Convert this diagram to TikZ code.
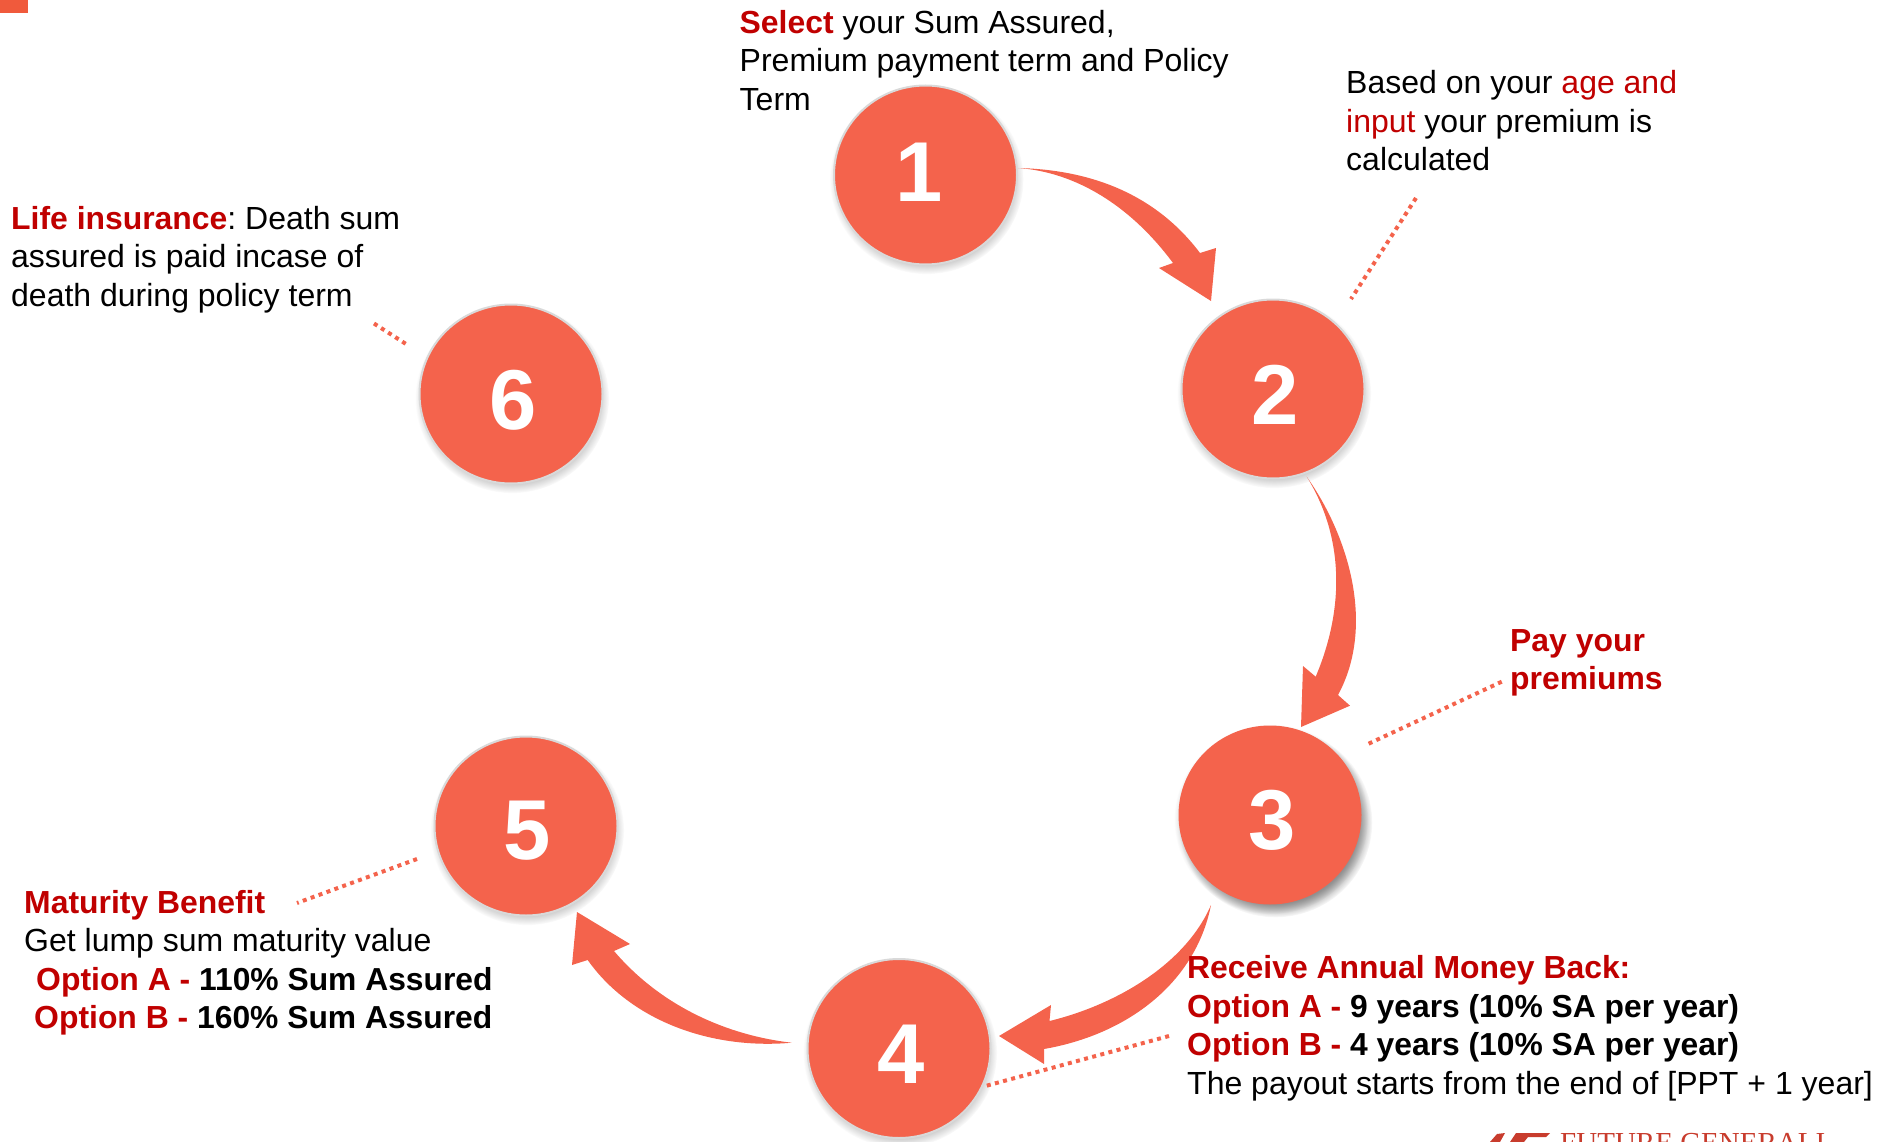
\documentclass[tikz,border=0pt]{standalone}
\usepackage{fontspec}
\setmainfont{Liberation Sans}
\usetikzlibrary{shadows,shapes.geometric}
\definecolor{coral}{RGB}{244,99,76}
\definecolor{tagcol}{RGB}{240,90,60}
\definecolor{redtxt}{RGB}{192,0,0}
\definecolor{logored}{RGB}{200,60,45}
\newcommand{\rd}[1]{\textcolor{redtxt}{#1}}
\newcommand{\rb}[1]{\textcolor{redtxt}{\bfseries\fontsize{31.9}{38.5}\selectfont #1}}
\newcommand{\bk}[1]{{\bfseries\fontsize{31.8}{38.5}\selectfont #1}}
% digit inside a circle: x offset, height of the raise, digit
\newcommand{\numtxt}[3]{\hspace*{#1pt}\raisebox{#2pt}[0pt][0pt]{#3}\hspace*{-#1pt}}
\tikzset{
  stepcircle/.style={ellipse,minimum width=183pt,minimum height=179pt,inner sep=0pt,
    fill=coral,draw=white!85!black,line width=2pt,text=white,
    font=\fontsize{85}{85}\selectfont\bfseries,
    circular drop shadow={shadow xshift=1pt,shadow yshift=-4pt,shadow scale=1.06,opacity=.55}},
  deepcircle/.style={stepcircle,draw=none,
    circular drop shadow={shadow xshift=5pt,shadow yshift=-7pt,shadow scale=1.06,opacity=.8}},
  caption/.style={anchor=north west,inner sep=0pt,align=left,text=black,
    font=\fontsize{32}{38.5}\selectfont\frenchspacing},
  blockarrow/.style={fill=coral,draw=none},
  dotline/.style={draw=coral,line width=4pt,dash pattern=on 4pt off 4.4pt},
}
\begin{document}
\begin{tikzpicture}[x=1pt,y=-1pt]
\useasboundingbox (0,0) rectangle (1879,1142);
\clip (0,0) rectangle (1879,1142);
\fill[tagcol] (0,0) rectangle (28,13);

% block arrows
\coordinate (a12s) at (1018,168);
\coordinate (a12t) at (1211,301);
\coordinate (a23s) at (1306.7,476.7);
\coordinate (a23t) at (1301,727);
\coordinate (a34s) at (1211,905);
\coordinate (a34t) at (999,1036);
\coordinate (a45s) at (791.7,1042.7);
\coordinate (a45t) at (577,912);
\fill[blockarrow] (a12s) .. controls (1100,170) and (1160,200) .. (1200,253)
  -- (1216,248) -- (a12t) -- (1159,268) -- (1173,263)
  .. controls (1130,205) and (1075,172) .. (a12s) -- cycle;
\fill[blockarrow] (a23s) .. controls (1348,535) and (1376,625) .. (1338,695)
  -- (1350,705.7) -- (a23t) -- (1303,666) -- (1315.7,676.7)
  .. controls (1348,600) and (1340,530) .. (a23s) -- cycle;
\fill[blockarrow] (a34s) .. controls (1185,965) and (1115,1005) .. (1049.5,1021)
  -- (1051,1005) -- (a34t) -- (1044,1064) -- (1044,1049)
  .. controls (1125,1035) and (1195,985) .. (a34s) -- cycle;
\fill[blockarrow] (a45s) .. controls (725,1035) and (660,1005) .. (614,951)
  -- (630,944) -- (a45t) -- (572,965) -- (587.7,960)
  .. controls (630,1020) and (710,1050) .. (a45s) -- cycle;

% circles
\node[stepcircle] (n1) at (925.5,175) {\numtxt{-6}{-26.5}{1}};
\node[stepcircle] (n2) at (1273,389) {\numtxt{2.4}{-35}{2}};
\node[deepcircle] (n3) at (1270,815) {\numtxt{2.4}{-34.5}{3}};
\node[stepcircle] (n4) at (899,1048.5) {\numtxt{2.4}{-34.5}{4}};
\node[stepcircle] (n5) at (526,826) {\numtxt{1}{-33.5}{5}};
\node[stepcircle] (n6) at (511,394) {\numtxt{2.4}{-35}{6}};

% dotted leaders
\coordinate (d2a) at (1416,198); \coordinate (d2b) at (1351,299);
\coordinate (d3a) at (1501.7,681.7); \coordinate (d3b) at (1368,744);
\coordinate (d4a) at (1169,1036); \coordinate (d4b) at (985.5,1086);
\coordinate (d5a) at (417,859); \coordinate (d5b) at (297,903);
\coordinate (d6a) at (374,323.5); \coordinate (d6b) at (406,344);
\draw[dotline] (d2a) -- (d2b);
\draw[dotline] (d3a) -- (d3b);
\draw[dotline] (d4a) -- (d4b);
\draw[dotline] (d5a) -- (d5b);
\draw[dotline] (d6a) -- (d6b);

% captions
\node[caption] (t1) at (739.5,10) {\rb{Select} your Sum Assured,\\Premium payment term and Policy\\Term};
\node[caption] (t2) at (1346,70.5) {Based on your \rd{age and}\\\rd{input} your premium is\\calculated};
\node[caption] (t3) at (1510,629) {\rb{Pay your}\\\rb{premiums}};
\node[caption] (t4) at (1187,955.5) {\rb{Receive Annual Money Back:}\\\rb{Option A - }\bk{9 years (10\% SA per year)}\\\rb{Option B - }\bk{4 years (10\% SA per year)}\\The payout starts from the end of [PPT + 1 year]};
\node[caption] (t5) at (24,890) {\rb{Maturity Benefit}\\Get lump sum maturity value\\\hspace*{12pt}\rb{Option A - }\bk{110\% Sum Assured}\\\hspace*{10pt}\rb{Option B - }\bk{160\% Sum Assured}};
\node[caption] (t6) at (11,206) {\rb{Life insurance}: Death sum\\assured is paid incase of\\death during policy term};

% logo, cut by the lower edge
\node[anchor=base west,inner sep=0pt,text=logored,font=\fontsize{29}{29}\selectfont\fontspec{Liberation Serif}] (logo) at (1560,1152) {FUTURE GENERALI};
\fill[logored] (1490,1142) -- (1497,1134) -- (1505,1133) -- (1500,1142) -- cycle
  (1510,1142) -- (1516,1133) -- (1550,1133) -- (1546,1137) -- (1528,1137) -- (1524,1142) -- cycle;
\end{tikzpicture}
\end{document}
